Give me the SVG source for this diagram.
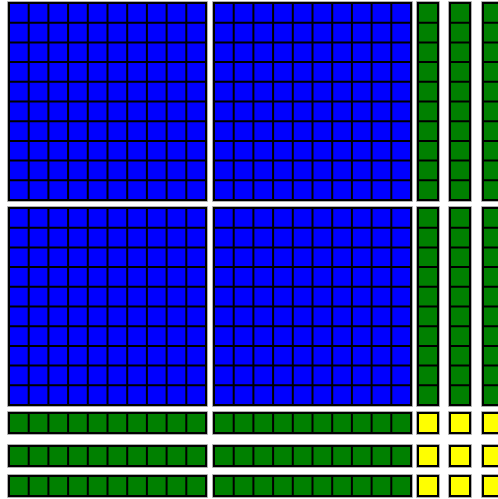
<svg xmlns="http://www.w3.org/2000/svg" xmlns:xlink="http://www.w3.org/1999/xlink" width="498" height="499" viewBox="0 0 498 499">
<style>
.halo{fill:none;stroke:#9a9a9a;stroke-width:3.6}
.edge{stroke:#000;stroke-width:2}
.grid{fill:none;stroke:#000;stroke-width:2}
.blue{fill:#0000ff}
.green{fill:#008000}
.yellow{fill:#ffff00}
</style>
<defs>
<g id="hundred">
<rect class="halo" x="0" y="0" width="197" height="197"/>
<rect class="blue edge" x="0" y="0" width="197" height="197"/>
<path class="grid" d="M19.7 0V197M39.4 0V197M59.1 0V197M78.8 0V197M98.5 0V197M118.2 0V197M137.9 0V197M157.6 0V197M177.3 0V197M0 19.7H197M0 39.4H197M0 59.1H197M0 78.8H197M0 98.5H197M0 118.2H197M0 137.9H197M0 157.6H197M0 177.3H197"/>
</g>
<g id="vrod">
<rect class="halo" x="0" y="0" width="20" height="197"/>
<rect class="green edge" x="0" y="0" width="20" height="197"/>
<path class="grid" d="M0 19.7H20M0 39.4H20M0 59.1H20M0 78.8H20M0 98.5H20M0 118.2H20M0 137.9H20M0 157.6H20M0 177.3H20"/>
</g>
<g id="hrod">
<rect class="halo" x="0" y="0" width="197" height="20"/>
<rect class="green edge" x="0" y="0" width="197" height="20"/>
<path class="grid" d="M19.7 0V20M39.4 0V20M59.1 0V20M78.8 0V20M98.5 0V20M118.2 0V20M137.9 0V20M157.6 0V20M177.3 0V20"/>
</g>
<g id="unit">
<rect class="halo" x="0" y="0" width="20" height="20"/>
<rect class="yellow edge" x="0" y="0" width="20" height="20"/>
</g>
</defs>
<rect x="0" y="0" width="498" height="499" fill="#fff"/>
<g id="hundred-1"><use xlink:href="#hundred" x="9" y="3"/></g>
<g id="hundred-2"><use xlink:href="#hundred" x="214" y="3"/></g>
<g id="hundred-3"><use xlink:href="#hundred" x="9" y="208"/></g>
<g id="hundred-4"><use xlink:href="#hundred" x="214" y="208"/></g>
<g id="vrod-1"><use xlink:href="#vrod" x="418" y="3"/></g>
<g id="vrod-2"><use xlink:href="#vrod" x="450" y="3"/></g>
<g id="vrod-3"><use xlink:href="#vrod" x="483" y="3"/></g>
<g id="vrod-4"><use xlink:href="#vrod" x="418" y="208"/></g>
<g id="vrod-5"><use xlink:href="#vrod" x="450" y="208"/></g>
<g id="vrod-6"><use xlink:href="#vrod" x="483" y="208"/></g>
<g id="hrod-1"><use xlink:href="#hrod" x="9" y="413"/></g>
<g id="hrod-2"><use xlink:href="#hrod" x="214" y="413"/></g>
<g id="hrod-3"><use xlink:href="#hrod" x="9" y="446"/></g>
<g id="hrod-4"><use xlink:href="#hrod" x="214" y="446"/></g>
<g id="hrod-5"><use xlink:href="#hrod" x="9" y="476"/></g>
<g id="hrod-6"><use xlink:href="#hrod" x="214" y="476"/></g>
<g id="unit-1"><use xlink:href="#unit" x="418" y="413"/></g>
<g id="unit-2"><use xlink:href="#unit" x="450" y="413"/></g>
<g id="unit-3"><use xlink:href="#unit" x="483" y="413"/></g>
<g id="unit-4"><use xlink:href="#unit" x="418" y="446"/></g>
<g id="unit-5"><use xlink:href="#unit" x="450" y="446"/></g>
<g id="unit-6"><use xlink:href="#unit" x="483" y="446"/></g>
<g id="unit-7"><use xlink:href="#unit" x="418" y="476"/></g>
<g id="unit-8"><use xlink:href="#unit" x="450" y="476"/></g>
<g id="unit-9"><use xlink:href="#unit" x="483" y="476"/></g>
<g id="connectors"></g>
</svg>
